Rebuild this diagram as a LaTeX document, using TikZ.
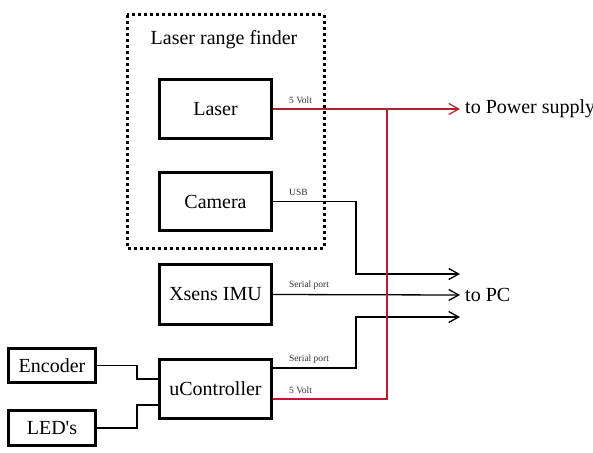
\documentclass[tikz,border=0pt]{standalone}
\usepackage{fontspec}
\setmainfont{Liberation Serif}
\newfontfamily\plainserif{Liberation Serif}
\usetikzlibrary{arrows.meta}
\definecolor{pwrred}{RGB}{175,35,45}
\definecolor{lblgray}{RGB}{50,50,50}
\begin{document}
\begin{tikzpicture}[x=1pt,y=-1pt,
  blk/.style={draw,line width=3pt,inner sep=0pt,font=\fontsize{20}{24}\selectfont},
  wire/.style={line width=1.3pt,color=black},
  pwire/.style={line width=1.2pt,color=pwrred},
  tip/.style={-{Straight Barb[length=10pt,width=11pt]}},
  lbl/.style={anchor=base west,inner sep=0pt,text=lblgray,font=\fontsize{9.5}{11}\selectfont},
  big/.style={inner sep=0pt,font=\fontsize{20}{24}\selectfont}]
\useasboundingbox (0,0) rectangle (593,452);
% group frame
\draw[line width=3pt,dash pattern=on 3pt off 3pt] (127,15) rectangle (324,248);
\node[big,anchor=base] (title) at (224,45) {Laser range finder};
% blocks
\node[blk,minimum width=112pt,minimum height=59pt] (laser) at (215.5,109) {Laser};
\node[blk,minimum width=112pt,minimum height=58pt] (camera) at (215.5,201.5) {Camera};
\node[blk,minimum width=112pt,minimum height=60pt] (imu) at (215.5,294.5) {Xsens IMU};
\node[blk,minimum width=112pt,minimum height=59pt] (uc) at (215.5,389) {uController};
\node[blk,minimum width=87pt,minimum height=34pt] (enc) at (52,365.5) {Encoder};
\node[blk,minimum width=87pt,minimum height=35pt] (led) at (52,428) {\plainserif LED's};
% targets
\coordinate (pwr) at (460,109);
\coordinate (pc1) at (460,274);
\coordinate (pc) at (460,295);
\coordinate (pc3) at (460,317);
\node[big,anchor=west] (tpwr) at (465,109) {to Power supply};
\node[big,anchor=west] (tpc) at (465,295) {to PC};
% wires
\draw[wire,tip] (camera.east) -| ([xshift=-104pt]pc1) -- (pc1);
\node[lbl] (l2) at ([xshift=16pt,yshift=6pt]camera.east) {USB};
\draw[wire,tip] (imu.east) -- (pc);
\node[lbl] (l3) at ([xshift=16pt,yshift=7pt]imu.east) {Serial port};
\draw[wire,tip] ([yshift=21pt]uc.east) -| ([xshift=-104pt]pc3) -- (pc3);
\node[lbl] (l4) at ([xshift=16pt,yshift=28pt]uc.east) {Serial port};
\draw[pwire,tip] (laser.east) -- (pwr);
\node[lbl] (l1) at ([xshift=16pt,yshift=6pt]laser.east) {5 Volt};
\draw[pwire] ([yshift=-10pt]uc.east) -| ([xshift=-73pt]pwr);
\node[lbl] (l5) at ([xshift=16pt,yshift=-4pt]uc.east) {5 Volt};
\draw[wire] (enc.east) -| ([xshift=-21pt,yshift=10pt]uc.west) -- ([yshift=10pt]uc.west);
\draw[wire] (led.east) -| ([xshift=-21pt,yshift=-16pt]uc.west) -- ([yshift=-16pt]uc.west);
\end{tikzpicture}
\end{document}
